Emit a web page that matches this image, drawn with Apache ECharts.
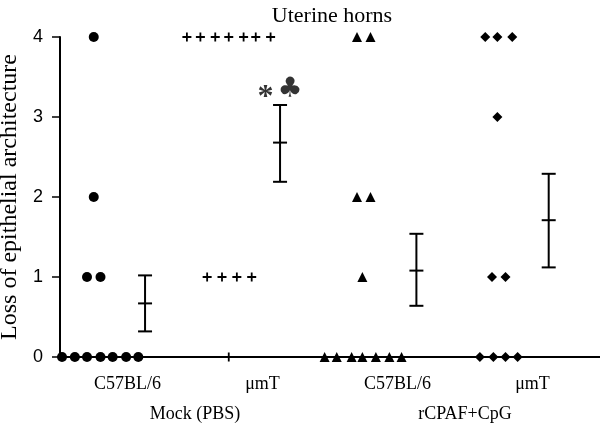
<!DOCTYPE html>
<html>
<head>
<meta charset="utf-8">
<script src="https://cdn.jsdelivr.net/npm/echarts@6/dist/echarts.min.js"></script>
<style>
  html, body { margin: 0; padding: 0; background: #fff; }
  #chart { width: 600px; height: 425px; }
</style>
</head>
<body>
<div id="chart"></div>
<script>
// strain labels and treatment groups
var strains = ['C57BL/6', '\u03bcmT', 'C57BL/6', '\u03bcmT']
var treatments = ['Mock (PBS)', 'rCPAF+CpG']
var yTicks = [0, 1, 2, 3, 4]

// individual scores [x position (group units), score]
var mockC57 = [
  [0.25, 4], [0.25, 2], [0.2, 1], [0.3, 1],
  [0.015, 0], [0.11, 0], [0.2, 0], [0.3, 0], [0.39, 0], [0.49, 0], [0.58, 0]
]
var mockMuMT = [
  [0.94, 4], [1.04, 4], [1.15, 4], [1.25, 4], [1.36, 4], [1.45, 4], [1.56, 4],
  [1.09, 1], [1.2, 1], [1.31, 1], [1.42, 1],
  [1.25, 0]
]
var cpafC57 = [
  [2.2, 4], [2.3, 4], [2.2, 2], [2.3, 2], [2.24, 1],
  [1.96, 0], [2.05, 0], [2.16, 0], [2.24, 0], [2.34, 0], [2.44, 0], [2.53, 0]
]
var cpafMuMT = [
  [3.15, 4], [3.24, 4], [3.35, 4], [3.24, 3], [3.2, 1], [3.3, 1],
  [3.11, 0], [3.21, 0], [3.3, 0], [3.39, 0]
]

// mean +/- SEM : [x, lower, mean, upper]
var errBars = [
  [0.63, 0.32, 0.67, 1.02],
  [1.63, 2.19, 2.68, 3.15],
  [2.64, 0.64, 1.08, 1.54],
  [3.62, 1.12, 1.71, 2.29]
]
var sigMark = [[1.63, 3.34]]

var plusPath = 'path://M3.6,0H5.4V3.6H9V5.4H5.4V9H3.6V5.4H0V3.6H3.6Z'

var chart = echarts.init(document.getElementById('chart'))

function scatter (data, symbol, size) {
  return {
    type: 'scatter',
    xAxisIndex: 1,
    data: data,
    symbol: symbol,
    symbolSize: size,
    itemStyle: { color: '#000', opacity: 1 },
    silent: true,
    z: 3
  }
}

chart.setOption({
  animation: false,
  backgroundColor: '#fff',
  title: {
    text: 'Uterine horns',
    left: 327,
    textAlign: 'center',
    top: 0,
    textStyle: { fontFamily: 'Liberation Serif', fontSize: 22, fontWeight: 'normal', color: '#000' }
  },
  grid: { left: 60, right: 0, top: 37, bottom: 68, outerBoundsMode: 'none', containLabel: false },
  xAxis: [
    {
      type: 'category',
      data: strains,
      boundaryGap: true,
      axisLine: { lineStyle: { color: '#000', width: 2 } },
      axisTick: { alignWithLabel: true, length: 7, lineStyle: { color: '#000', width: 1.5 } },
      axisLabel: { color: '#000', fontFamily: 'Liberation Serif', fontSize: 18, margin: 18 }
    },
    {
      type: 'value',
      min: 0,
      max: 4,
      show: false
    },
    {
      type: 'category',
      data: treatments,
      position: 'bottom',
      boundaryGap: true,
      axisLine: { show: false },
      axisTick: { show: false },
      axisLabel: { color: '#000', fontFamily: 'Liberation Serif', fontSize: 18, margin: 48 }
    }
  ],
  yAxis: {
    type: 'value',
    min: yTicks[0],
    max: yTicks[yTicks.length - 1],
    interval: 1,
    name: 'Loss of epithelial architecture',
    nameLocation: 'middle',
    nameGap: 37,
    nameTextStyle: { fontFamily: 'Liberation Serif', fontSize: 24, color: '#000' },
    axisLine: { show: true, lineStyle: { color: '#000', width: 2 } },
    axisTick: { show: true, length: 8, lineStyle: { color: '#000', width: 1.5 } },
    axisLabel: { color: '#000', fontFamily: 'Liberation Sans', fontSize: 18, margin: 17 },
    splitLine: { show: false }
  },
  series: [
    scatter(mockC57, 'circle', 10),
    scatter(mockMuMT, plusPath, 9),
    scatter(cpafC57, 'triangle', 10),
    scatter(cpafMuMT, 'diamond', 10),
    {
      type: 'custom',
      xAxisIndex: 1,
      data: errBars,
      silent: true,
      z: 4,
      renderItem: function (params, api) {
        var lo = api.coord([api.value(0), api.value(1)])
        var mid = api.coord([api.value(0), api.value(2)])
        var hi = api.coord([api.value(0), api.value(3)])
        var w = 7
        var st = { stroke: '#000', lineWidth: 2 }
        return {
          type: 'group',
          children: [
            { type: 'line', shape: { x1: hi[0], y1: hi[1], x2: lo[0], y2: lo[1] }, style: st },
            { type: 'line', shape: { x1: hi[0] - w, y1: hi[1], x2: hi[0] + w, y2: hi[1] }, style: st },
            { type: 'line', shape: { x1: mid[0] - w, y1: mid[1], x2: mid[0] + w, y2: mid[1] }, style: st },
            { type: 'line', shape: { x1: lo[0] - w, y1: lo[1], x2: lo[0] + w, y2: lo[1] }, style: st }
          ]
        }
      }
    },
    {
      type: 'scatter',
      xAxisIndex: 1,
      data: sigMark,
      symbolSize: 0,
      silent: true,
      label: {
        show: true,
        position: 'inside',
        formatter: '{a|*}{b|\u2663}',
        rich: {
          a: { fontFamily: 'Liberation Serif', fontWeight: 'bold', fontSize: 32, color: '#000', padding: [16, 4, 0, 0] },
          b: { fontFamily: 'DejaVu Sans', fontSize: 28, color: '#000' }
        }
      }
    }
  ]
})
</script>
</body>
</html>
